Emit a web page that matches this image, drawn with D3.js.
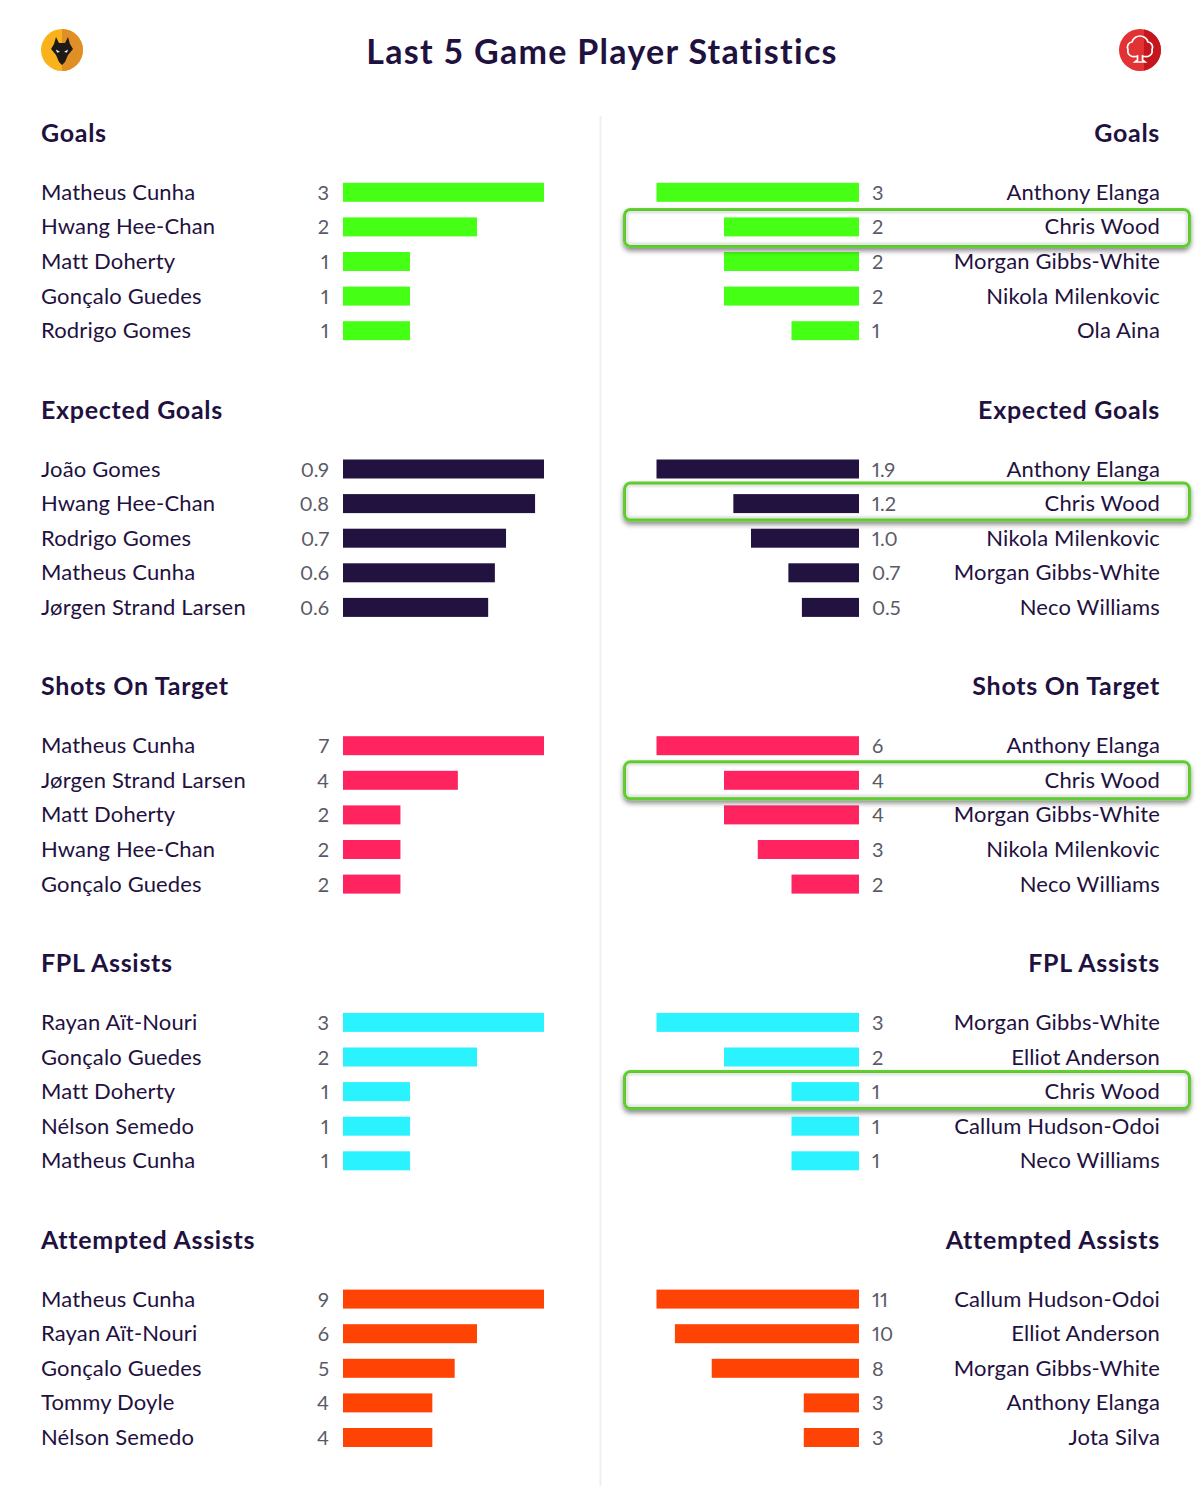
<!DOCTYPE html>
<html>
<head>
  <meta charset="UTF-8">
  <style>
    html, body { margin: 0; padding: 0; background: #fff; }
    svg { display: block; }
    text { font-family: Lato, "Noto Sans", sans-serif; fill: #1f1140; }
    .title { font-size: 34px; font-weight: 700; letter-spacing: 1.3px; }
    .heading { font-size: 25px; font-weight: 700; letter-spacing: 0.7px; }
    .name { font-size: 22px; letter-spacing: 0.15px; }
    .num { font-size: 20px; fill: #5a5a66; font-variant-numeric: proportional-nums; }
  </style>
</head>
<body>
<svg></svg>
<script src="https://d3js.org/d3.v7.min.js"></script>

<script>

let width = 1200, height = 1486;

let svg = d3.select("svg")
    .attr("width", width)
    .attr("height", height)
    .attr("viewBox", "0 0 " + width + " " + height)

const statNames = ["Goals", "Expected Goals", "Shots On Target", "FPL Assists", "Attempted Assists"];
const statColors = ["#45ff14", "#22123f", "#ff2460", "#2af3ff", "#ff4304"];

const leftPlayers = [
    ["Matheus Cunha", "Hwang Hee-Chan", "Matt Doherty", "Gonçalo Guedes", "Rodrigo Gomes"],
    ["João Gomes", "Hwang Hee-Chan", "Rodrigo Gomes", "Matheus Cunha", "Jørgen Strand Larsen"],
    ["Matheus Cunha", "Jørgen Strand Larsen", "Matt Doherty", "Hwang Hee-Chan", "Gonçalo Guedes"],
    ["Rayan Aït-Nouri", "Gonçalo Guedes", "Matt Doherty", "Nélson Semedo", "Matheus Cunha"],
    ["Matheus Cunha", "Rayan Aït-Nouri", "Gonçalo Guedes", "Tommy Doyle", "Nélson Semedo"]
];
const leftValues = [
    [3, 2, 1, 1, 1],
    [0.9, 0.86, 0.73, 0.68, 0.65],
    [7, 4, 2, 2, 2],
    [3, 2, 1, 1, 1],
    [9, 6, 5, 4, 4]
];
const leftLabels = [
    ["3", "2", "1", "1", "1"],
    ["0.9", "0.8", "0.7", "0.6", "0.6"],
    ["7", "4", "2", "2", "2"],
    ["3", "2", "1", "1", "1"],
    ["9", "6", "5", "4", "4"]
];

const rightPlayers = [
    ["Anthony Elanga", "Chris Wood", "Morgan Gibbs-White", "Nikola Milenkovic", "Ola Aina"],
    ["Anthony Elanga", "Chris Wood", "Nikola Milenkovic", "Morgan Gibbs-White", "Neco Williams"],
    ["Anthony Elanga", "Chris Wood", "Morgan Gibbs-White", "Nikola Milenkovic", "Neco Williams"],
    ["Morgan Gibbs-White", "Elliot Anderson", "Chris Wood", "Callum Hudson-Odoi", "Neco Williams"],
    ["Callum Hudson-Odoi", "Elliot Anderson", "Morgan Gibbs-White", "Anthony Elanga", "Jota Silva"]
];
const rightValues = [
    [3, 2, 2, 2, 1],
    [1.95, 1.21, 1.04, 0.68, 0.55],
    [6, 4, 4, 3, 2],
    [3, 2, 1, 1, 1],
    [11, 10, 8, 3, 3]
];
const rightLabels = [
    ["3", "2", "2", "2", "1"],
    ["1.9", "1.2", "1.0", "0.7", "0.5"],
    ["6", "4", "4", "3", "2"],
    ["3", "2", "1", "1", "1"],
    ["11", "10", "8", "3", "3"]
];

const highlightPlayer = "Chris Wood";

// group and row positions
let groupY = d3.scaleBand().domain(d3.range(statNames.length)).range([133, 133 + 276.7 * 5]);
let rowY = d3.scaleBand().domain(d3.range(5)).range([42, 42 + 34.6 * 5]);
const barH = 19;
// the green boxes are not quite centred on their rows
const boxNudge = [1, -2, 0, -1.5, 0];

// divider
svg.append("line")
    .attr("x1", 600.5).attr("x2", 600.5)
    .attr("y1", 116).attr("y2", 1486)
    .style("stroke", "#efefef")
    .style("stroke-width", 2);

// shadows for the highlighted row
let defs = svg.append("defs");
let filter = defs.append("filter")
    .attr("id", "rowShadow")
    .attr("x", "-3%").attr("y", "-30%").attr("width", "106%").attr("height", "170%");
filter.append("feDropShadow")
    .attr("dx", 0).attr("dy", 3).attr("stdDeviation", 2.5)
    .attr("flood-color", "#000").attr("flood-opacity", 0.45);
defs.append("filter").attr("id", "innerBlur")
    .append("feGaussianBlur").attr("stdDeviation", 1.2);

svg.append("text").attr("class", "title")
    .attr("x", 602).attr("y", 50)
    .attr("text-anchor", "middle").attr("dominant-baseline", "central")
    .text("Last 5 Game Player Statistics");

// badges
let wolves = svg.append("g").attr("transform", "translate(62,50)");
wolves.append("circle").attr("r", 21).style("fill", "#f9b21c");
wolves.append("path").attr("d", "M0,-21 A21,21 0 0 1 0,21 Z").style("fill", "#df8f25");
wolves.append("path")
    .attr("d", "M-6,-13 L-3,-7 L3,-7 L6,-13 L8,-6 L11,-1 L6,5 L3,12 L0,15 L-3,12 L-6,5 L-11,-1 L-8,-6 Z")
    .style("fill", "#1e1a1a");
wolves.selectAll("path.eye").data([-1, 1]).enter().append("path")
    .attr("class", "eye")
    .attr("d", d => "M" + (d * 2) + ",2 L" + (d * 6) + ",-0.5 L" + (d * 5) + ",2.5 Z")
    .style("fill", "#fff");

let forest = svg.append("g").attr("transform", "translate(1140,50)");
forest.append("circle").attr("r", 21).style("fill", "#e23234");
forest.append("path").attr("d", "M4,-20.6 A21,21 0 0 1 4,20.6 Z").style("fill", "#c4161c");
forest.append("path")
    .attr("d", "M-2.5,6 C-8,8 -13,5 -12,0 C-14,-4 -11,-8 -8,-8 C-7,-12 -3,-14 0,-14 C3,-14 7,-12 8,-8 C11,-8 14,-4 12,0 C13,5 8,8 2.5,6 L2.5,10 L5,12 L-5,12 L-2.5,10 Z")
    .style("fill", "none")
    .style("stroke", "#fff")
    .style("stroke-width", 1.7);

function drawPanel(players, values, labels, side) {
    let isLeft = side === "left";
    let groups = svg.append("g").attr("class", "panel-" + side)
        .selectAll("g.stat")
        .data(statNames)
        .enter()
        .append("g")
        .attr("class", "stat")
        .attr("transform", (d, i) => "translate(0," + groupY(i) + ")");

    groups.append("text").attr("class", "heading")
        .attr("x", isLeft ? 41 : 1160)
        .attr("y", -1)
        .attr("text-anchor", isLeft ? "start" : "end")
        .attr("dominant-baseline", "central")
        .text(d => d);

    groups.each(function (stat, i) {
        let x = d3.scaleLinear().domain([0, d3.max(values[i])])
            .range(isLeft ? [343, 544] : [859, 656.5]);
        let rowData = players[i].map((p, j) => ({ player: p, value: values[i][j], label: labels[i][j], j: j }));

        let rows = d3.select(this).selectAll("g.row")
            .data(rowData)
            .enter()
            .append("g")
            .attr("class", "row")
            .attr("transform", d => "translate(0," + (rowY(d.j) + rowY.bandwidth() / 2) + ")");

        // white plate with green outline, only on the highlighted row
        let box = rows.filter(d => !isLeft && d.player === highlightPlayer)
            .classed("highlight", true);
        box.append("rect")
            .attr("x", 624.5).attr("y", -18.5 + boxNudge[i])
            .attr("width", 565).attr("height", 37)
            .attr("rx", 6)
            .style("fill", "#fff")
            .style("stroke", "#5fd12e")
            .style("stroke-width", 3)
            .attr("filter", "url(#rowShadow)");
        box.append("rect")
            .attr("x", 627).attr("y", -16 + boxNudge[i])
            .attr("width", 560).attr("height", 32)
            .attr("rx", 4)
            .style("fill", "none")
            .style("stroke", "#000")
            .style("stroke-opacity", 0.22)
            .style("stroke-width", 1.5)
            .attr("filter", "url(#innerBlur)");

        rows.append("rect")
            .attr("x", d => isLeft ? x(0) : x(d.value))
            .attr("y", -barH / 2)
            .attr("width", d => isLeft ? x(d.value) - x(0) : x(0) - x(d.value))
            .attr("height", barH)
            .style("fill", statColors[i]);

        rows.append("text").attr("class", "num")
            .attr("x", isLeft ? 329 : 872)
            .attr("y", -0.5)
            .attr("text-anchor", isLeft ? "end" : "start")
            .attr("dominant-baseline", "central")
            .text(d => d.label);

        rows.append("text").attr("class", "name")
            .attr("x", isLeft ? 41 : 1160)
            .attr("y", -1)
            .attr("text-anchor", isLeft ? "start" : "end")
            .attr("dominant-baseline", "central")
            .text(d => d.player);
    });
}

drawPanel(leftPlayers, leftValues, leftLabels, "left");
drawPanel(rightPlayers, rightValues, rightLabels, "right");

// highlighted rows sit above their neighbours so the shadow falls on the next bar
svg.selectAll("g.stat").each(function () {
    d3.select(this).selectAll("g.highlight").raise();
});

</script>

</body>
</html>
